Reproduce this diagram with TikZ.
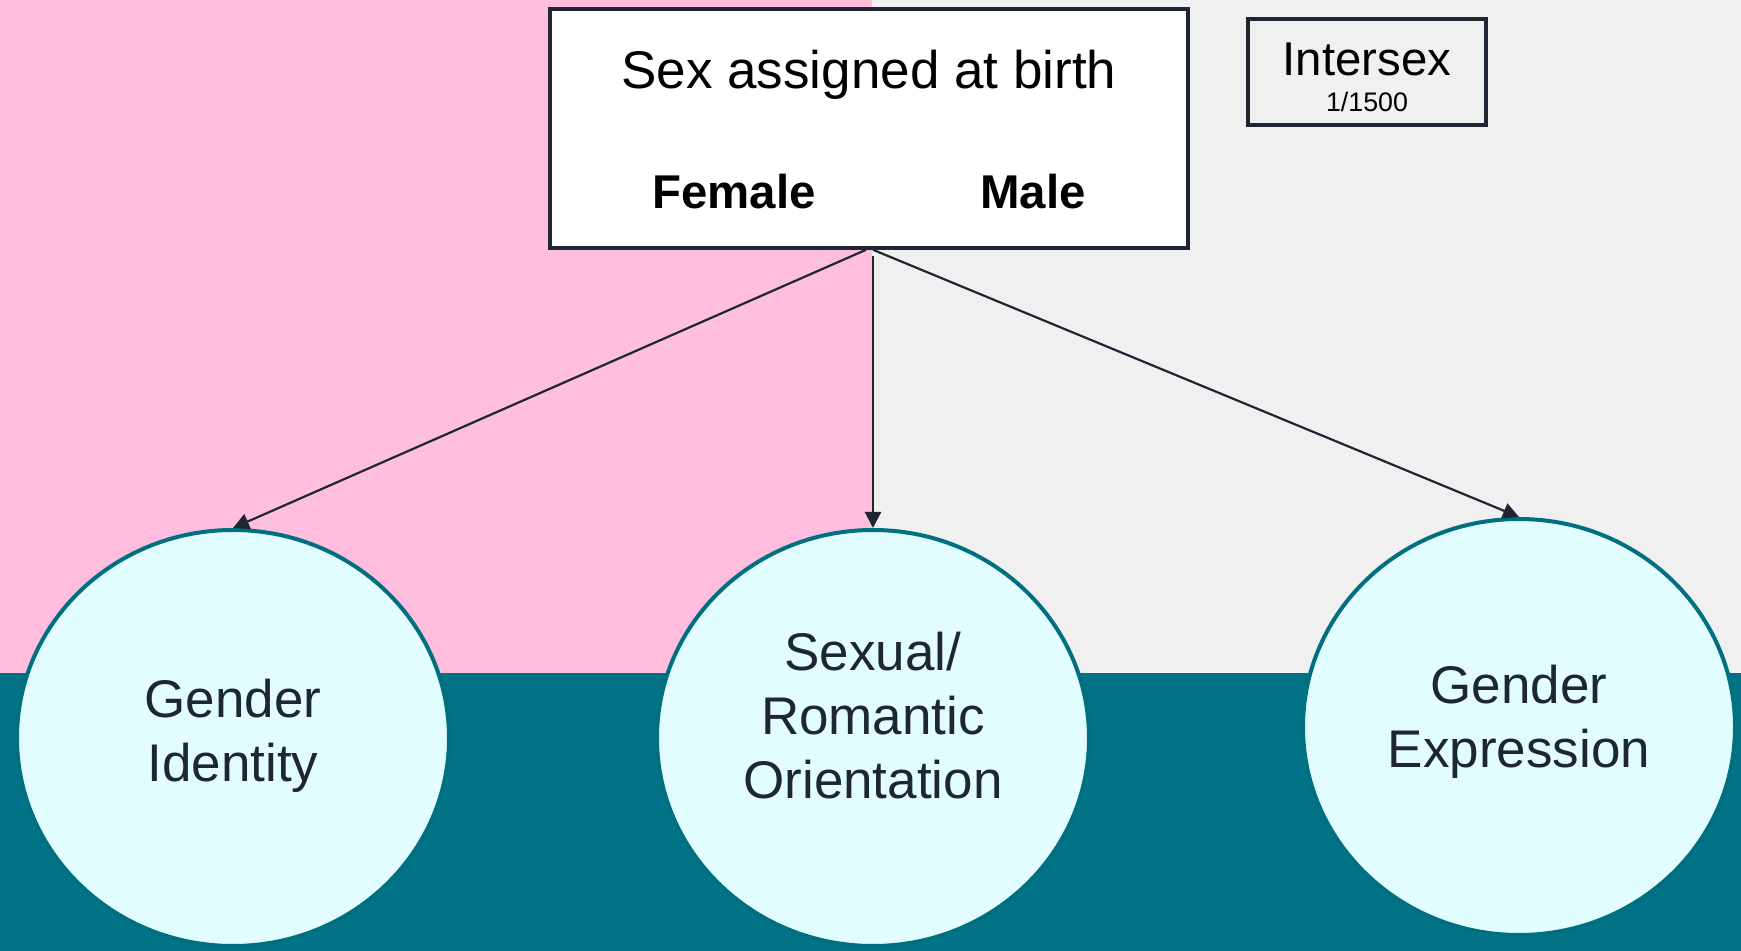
\documentclass[tikz,border=0pt]{standalone}
\usepackage{fontspec}
\setmainfont{Liberation Sans}
\usetikzlibrary{shapes.geometric,arrows.meta}
\definecolor{bgpink}{RGB}{255,190,221}
\definecolor{bggray}{RGB}{240,240,240}
\definecolor{bgteal}{RGB}{2,114,134}
\definecolor{circfill}{RGB}{226,253,255}
\definecolor{circline}{RGB}{0,112,128}
\definecolor{boxline}{RGB}{30,38,52}
\tikzset{
  topbox/.style={draw=boxline,line width=1.8pt,fill=white,rectangle,inner sep=0pt},
  smallbox/.style={draw=boxline,line width=1.8pt,fill=bggray,rectangle,inner sep=0pt},
  blob/.style={ellipse,draw=circline,line width=2pt,fill=circfill,inner sep=0pt,minimum width=216pt,minimum height=208pt},
  blobtext/.style={align=center,font=\fontsize{26.5}{32}\selectfont,text=boxline},
  arr/.style={draw=boxline,line width=1.1pt,-{Triangle[length=8pt,width=8pt]}}
}
\begin{document}
\begin{tikzpicture}[x=0.5pt,y=-0.5pt]
\useasboundingbox (0,0) rectangle (1741,951);
\fill[bgpink] (0,0) rectangle (872,673);
\fill[bggray] (872,0) rectangle (1741,673);
\fill[bgteal] (0,673) rectangle (1741,951);

\node[topbox,minimum width=319pt,minimum height=119.5pt] (sab) at (869,128.5) {};
\node[font=\fontsize{26.5}{30}\selectfont] (sabt) at (869,75) {Sex assigned at birth};
\node[font=\fontsize{23.7}{28}\selectfont\bfseries] (fem) at (734,192) {Female};
\node[font=\fontsize{23.7}{28}\selectfont\bfseries] (mal) at (1033,192) {Male};

\node[smallbox,minimum width=119pt,minimum height=53pt] (ibox) at (1367,72) {};
\node[font=\fontsize{23.7}{28}\selectfont] (it) at (1367,59) {Intersex};
\node[font=\fontsize{13.4}{16}\selectfont] (ir) at (1367,102) {1/1500};

\node[blob] (gi) at (233,738) {};
\node[blob] (so) at (873,738) {};
\node[blob] (ge) at (1519,727) {};

\node[blobtext] (git) at (233,735.5) {Gender\\Identity};
\node[blobtext] (sot) at (873,716) {Sexual/\\Romantic\\Orientation};
\node[blobtext] (get) at (1519,721.5) {Gender\\Expression};

\coordinate (midstart) at ([yshift=-3pt]so.north |- sab.south);
\draw[arr] ([xshift=-1.5pt]sab.south) -- (gi.north);
\draw[arr] (midstart) -- (so.north);
\draw[arr] ([xshift=2pt]sab.south) -- (ge.north);
\end{tikzpicture}
\end{document}
